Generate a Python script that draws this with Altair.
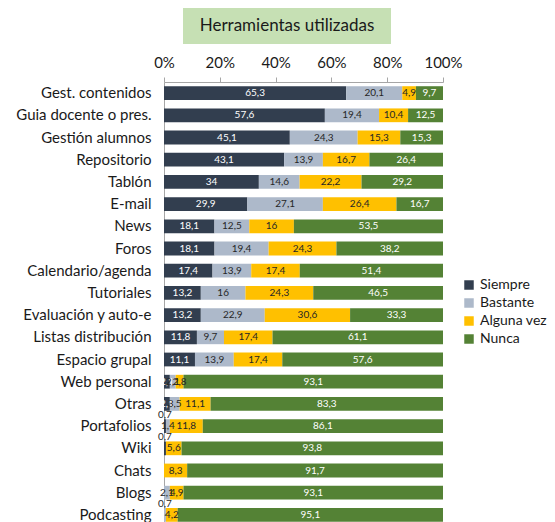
import altair as alt
import pandas as pd

categories = ["Gest. contenidos", "Guia docente o pres.", "Gestión alumnos", "Repositorio",
              "Tablón", "E-mail", "News", "Foros", "Calendario/agenda", "Tutoriales",
              "Evaluación y auto-e", "Listas distribución", "Espacio grupal", "Web personal",
              "Otras", "Portafolios", "Wiki", "Chats", "Blogs", "Podcasting"]
siempre = [65.3, 57.6, 45.1, 43.1, 34, 29.9, 18.1, 18.1, 17.4, 13.2, 13.2, 11.8, 11.1, 2.1, 2.1, 0.7, 0.7, 0, 0, 0]
bastante = [20.1, 19.4, 24.3, 13.9, 14.6, 27.1, 12.5, 19.4, 13.9, 16, 22.9, 9.7, 13.9, 2.1, 3.5, 1.4, 0, 0, 2.1, 0.7]
alguna = [4.9, 10.4, 15.3, 16.7, 22.2, 26.4, 16, 24.3, 17.4, 24.3, 30.6, 17.4, 17.4, 2.8, 11.1, 11.8, 5.6, 8.3, 4.9, 4.2]
nunca = [9.7, 12.5, 15.3, 26.4, 29.2, 16.7, 53.5, 38.2, 51.4, 46.5, 33.3, 61.1, 57.6, 93.1, 83.3, 86.1, 93.8, 91.7, 93.1, 95.1]
series = ["Siempre", "Bastante", "Alguna vez", "Nunca"]
colors = ["#323e4f", "#adb9ca", "#ffc000", "#548235"]
title_text = "Herramientas utilizadas"

FONT = "Lato"

rows = []
for i, c in enumerate(categories):
    for j, (s, vals) in enumerate(zip(series, [siempre, bastante, alguna, nunca])):
        rows.append({"cat": c, "serie": s, "ord": j, "value": vals[i]})
df = pd.DataFrame(rows)

base = alt.Chart(df).transform_stack(
    stack="value", groupby=["cat"], sort=[alt.SortField("ord")],
    as_=["v0", "v1"], offset="normalize"
).transform_calculate(
    mid="(datum.v0 + datum.v1) / 2",
    lab="replace(format(datum.value, '.1~f'), '.', ',')"
)

yenc = alt.Y("cat:N", sort=categories,
             scale=alt.Scale(paddingInner=0.38, paddingOuter=0.19),
             axis=alt.Axis(title=None, ticks=False, labelFontSize=15, labelFont=FONT,
                           labelColor="#1a1a1a", domainColor="#a6a6a6", labelPadding=13))

bars = base.mark_bar().encode(
    x=alt.X("v0:Q", scale=alt.Scale(domain=[0, 1]),
            axis=alt.Axis(orient="top", format=".0%", values=[0, 0.2, 0.4, 0.6, 0.8, 1],
                          grid=False, tickSize=5, tickColor="#a6a6a6", domainColor="#a6a6a6",
                          labelFontSize=15, labelFont=FONT, labelColor="#1a1a1a",
                          labelFlush=False, labelPadding=7, title=None)),
    x2="v1:Q",
    y=yenc,
    color=alt.Color("serie:N", sort=series,
                    scale=alt.Scale(domain=series, range=colors),
                    legend=alt.Legend(title=None, orient="none", legendX=298, legendY=196,
                                      symbolType="square", symbolSize=90, symbolStrokeWidth=0,
                                      labelFontSize=14, labelFont=FONT, labelColor="#1a1a1a",
                                      rowPadding=4)),
    order=alt.Order("ord:Q")
)

txtcolor = alt.condition("datum.ord == 0 || datum.ord == 3", alt.value("white"), alt.value("#262626"))

labels = base.transform_filter("datum.value >= 1").mark_text(fontSize=10, font=FONT).encode(
    x="mid:Q", y=alt.Y("cat:N", sort=categories), text="lab:N", color=txtcolor
)
labels_small = base.transform_filter("datum.value > 0 && datum.value < 1").mark_text(
    fontSize=10, font=FONT, dy=-11, color="#262626").encode(
    x="mid:Q", y=alt.Y("cat:N", sort=categories), text="lab:N"
)

tdf = pd.DataFrame({"t": [title_text]})
title_box = alt.Chart(tdf).mark_rect(color="#c6e0b4").encode(
    x=alt.value(19), x2=alt.value(227), y=alt.value(-74), y2=alt.value(-38)
)
title_txt = alt.Chart(tdf).mark_text(fontSize=17, font=FONT, color="#1a1a1a").encode(
    x=alt.value(123), y=alt.value(-56), text="t:N"
)

chart = alt.layer(bars, labels, labels_small, title_box, title_txt).properties(
    width=279, height=444,
    padding={"left": 7, "top": 0, "right": 0, "bottom": 5}
).configure_view(stroke=None)

chart.save("out.html", embed_options={"renderer": "svg", "actions": False})
